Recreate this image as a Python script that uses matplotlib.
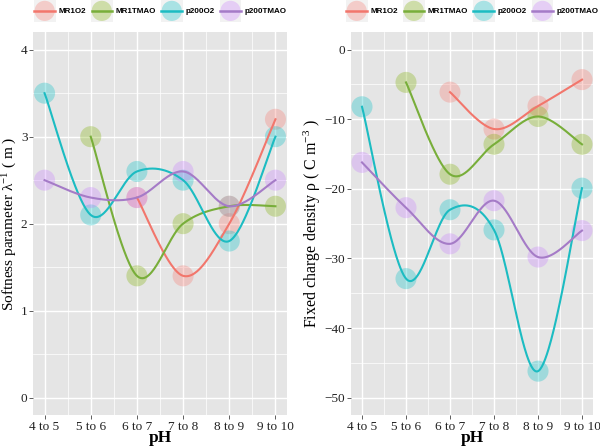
import numpy as np
import matplotlib
matplotlib.use("Agg")
import matplotlib.pyplot as plt
from matplotlib.lines import Line2D
from matplotlib.patches import Rectangle, Circle
from matplotlib.ticker import MultipleLocator

categories = ["4 to 5", "5 to 6", "6 to 7", "7 to 8", "8 to 9", "9 to 10"]
series = ["MR1O2", "MR1TMAO", "p200O2", "p200TMAO"]
colors = ["#F8766D", "#7CAE00", "#00BFC4", "#C77CFF"]
line_colors = ["#F2766C", "#78AE3A", "#1CBCC2", "#A57BC7"]

# Softness parameter (None = missing)
soft_MR1O2 = [None, None, 2.3, 1.4, 2.0, 3.2]
soft_MR1TMAO = [None, 3.0, 1.4, 2.0, 2.2, 2.2]
soft_p200O2 = [3.5, 2.1, 2.6, 2.5, 1.8, 3.0]
soft_p200TMAO = [2.5, 2.3, 2.3, 2.6, 2.2, 2.5]

# Fixed charge density
rho_MR1O2 = [None, None, -6.1, -11.4, -8.1, -4.3]
rho_MR1TMAO = [None, -4.7, -17.9, -13.6, -9.6, -13.6]
rho_p200O2 = [-8.2, -32.9, -23.0, -25.9, -46.2, -19.9]
rho_p200TMAO = [-16.2, -22.7, -27.9, -21.7, -29.8, -26.0]

soft_data = [soft_MR1O2, soft_MR1TMAO, soft_p200O2, soft_p200TMAO]
rho_data = [rho_MR1O2, rho_MR1TMAO, rho_p200O2, rho_p200TMAO]


def catmull_rom(x, y, n=60):
    """Smooth parametric curve through the points (end points repeated)."""
    P = np.column_stack([x, y]).astype(float)
    P = np.vstack([P[:1], P, P[-1:]])
    out = []
    t = np.linspace(0, 1, n)[:, None]
    for i in range(1, len(P) - 2):
        p0, p1, p2, p3 = P[i - 1], P[i], P[i + 1], P[i + 2]
        seg = 0.5 * (2 * p1 + (-p0 + p2) * t + (2 * p0 - 5 * p1 + 4 * p2 - p3) * t ** 2
                     + (-p0 + 3 * p1 - 3 * p2 + p3) * t ** 3)
        out.append(seg if i == 1 else seg[1:])
    out = np.vstack(out)
    return out[:, 0], out[:, 1]


class KeyHandler:
    def __init__(self, col, lc):
        self.col = col
        self.lc = lc

    def legend_artist(self, legend, orig_handle, fontsize, handlebox):
        x0, y0 = handlebox.xdescent, handlebox.ydescent
        w, h = handlebox.width, handlebox.height
        cx, cy = -x0 + w / 2, -y0 + h / 2
        size = w
        tr = handlebox.get_transform()
        rect = Rectangle((cx - size / 2, cy - size / 2), size, size,
                         facecolor="#F2F2F2", edgecolor="none", transform=tr)
        circ = Circle((cx, cy), size * 0.46, facecolor=self.col, alpha=0.3,
                      edgecolor="none", transform=tr)
        ln = Line2D([cx - size / 2 + 0.5, cx + size / 2 - 0.5], [cy, cy],
                    color=self.lc, lw=1.8, transform=tr)
        handlebox.add_artist(rect)
        handlebox.add_artist(circ)
        handlebox.add_artist(ln)
        return ln


plt.rcParams["font.family"] = ["Liberation Serif", "DejaVu Serif"]
plt.rcParams["mathtext.fontset"] = "custom"
plt.rcParams["mathtext.rm"] = "Liberation Serif"
plt.rcParams["mathtext.it"] = "Liberation Serif:italic"
fig = plt.figure(figsize=(6.0, 4.47), dpi=100)
fig.patch.set_facecolor("white")

axes_specs = [
    ([33 / 600, 1 - 415 / 447, 254 / 600, 382.7 / 447], soft_data, (-0.2, 4.2), 1, 0.5,
     "Softness parameter λ$^{\\mathregular{-1}}$ ( m )", 11),
    ([351 / 600, 1 - 415 / 447, 242 / 600, 382.7 / 447], rho_data, (-52.5, 2.5), 10, 5,
     "Fixed charge density ρ ( C m$^{\\mathregular{-3}}$ )", 11.5),
]

xcat = np.arange(1, len(categories) + 1)

for rect, data, ylim, major, minor, ylabel, yfs in axes_specs:
    ax = fig.add_axes(rect)
    ax.set_facecolor("#E5E5E5")
    for s in ax.spines.values():
        s.set_visible(False)
    ax.set_xlim(0.75, 6.25)
    ax.set_ylim(*ylim)
    ax.set_xticks(xcat)
    ax.set_xticks(xcat[:-1] + 0.5, minor=True)
    ax.set_xticklabels(categories)
    ax.yaxis.set_major_locator(MultipleLocator(major))
    ax.yaxis.set_minor_locator(MultipleLocator(minor))
    ax.grid(which="major", color="white", lw=1.0)
    ax.grid(which="minor", color="white", lw=0.5)
    ax.set_axisbelow(True)
    ax.tick_params(which="major", length=3, width=0.6, color="#444444",
                   labelsize=9.5, pad=1, labelcolor="#222222")
    ax.tick_params(which="minor", length=0)
    yt = [t for t in ax.get_yticks() if ylim[0] <= t <= ylim[1]]
    ax.set_yticks(yt)
    ax.set_yticklabels(["%g" % t if t >= 0 else "\u2212%g" % -t for t in yt])
    ax.set_xlabel("pH", fontsize=12.5, fontweight="bold", labelpad=-2)
    ax.set_ylabel(ylabel, fontsize=yfs, labelpad=1)

    for vals, col, lc in zip(data, colors, line_colors):
        xs = np.array([xcat[i] for i, v in enumerate(vals) if v is not None], float)
        ys = np.array([v for v in vals if v is not None], float)
        ax.scatter(xs, ys, s=230, color=col, alpha=0.3, edgecolors="none", zorder=2)
        cx, cy = catmull_rom(xs, ys)
        ax.plot(cx, cy, color=lc, lw=1.5, zorder=3)

    handles = [Line2D([], []) for _ in series]
    hmap = {hd: KeyHandler(c, l) for hd, c, l in zip(handles, colors, line_colors)}
    fs = 5.8
    ax.legend(handles, series, loc="center", bbox_to_anchor=(0.5, 1.056),
              ncol=4, frameon=False, handler_map=hmap,
              handlelength=15.8 / fs, handleheight=15.8 / fs,
              handletextpad=0.35, columnspacing=0.6,
              prop={"family": "Liberation Sans", "size": fs, "weight": "bold"},
              borderaxespad=0, borderpad=0)

fig.savefig("out.png", dpi=100)
